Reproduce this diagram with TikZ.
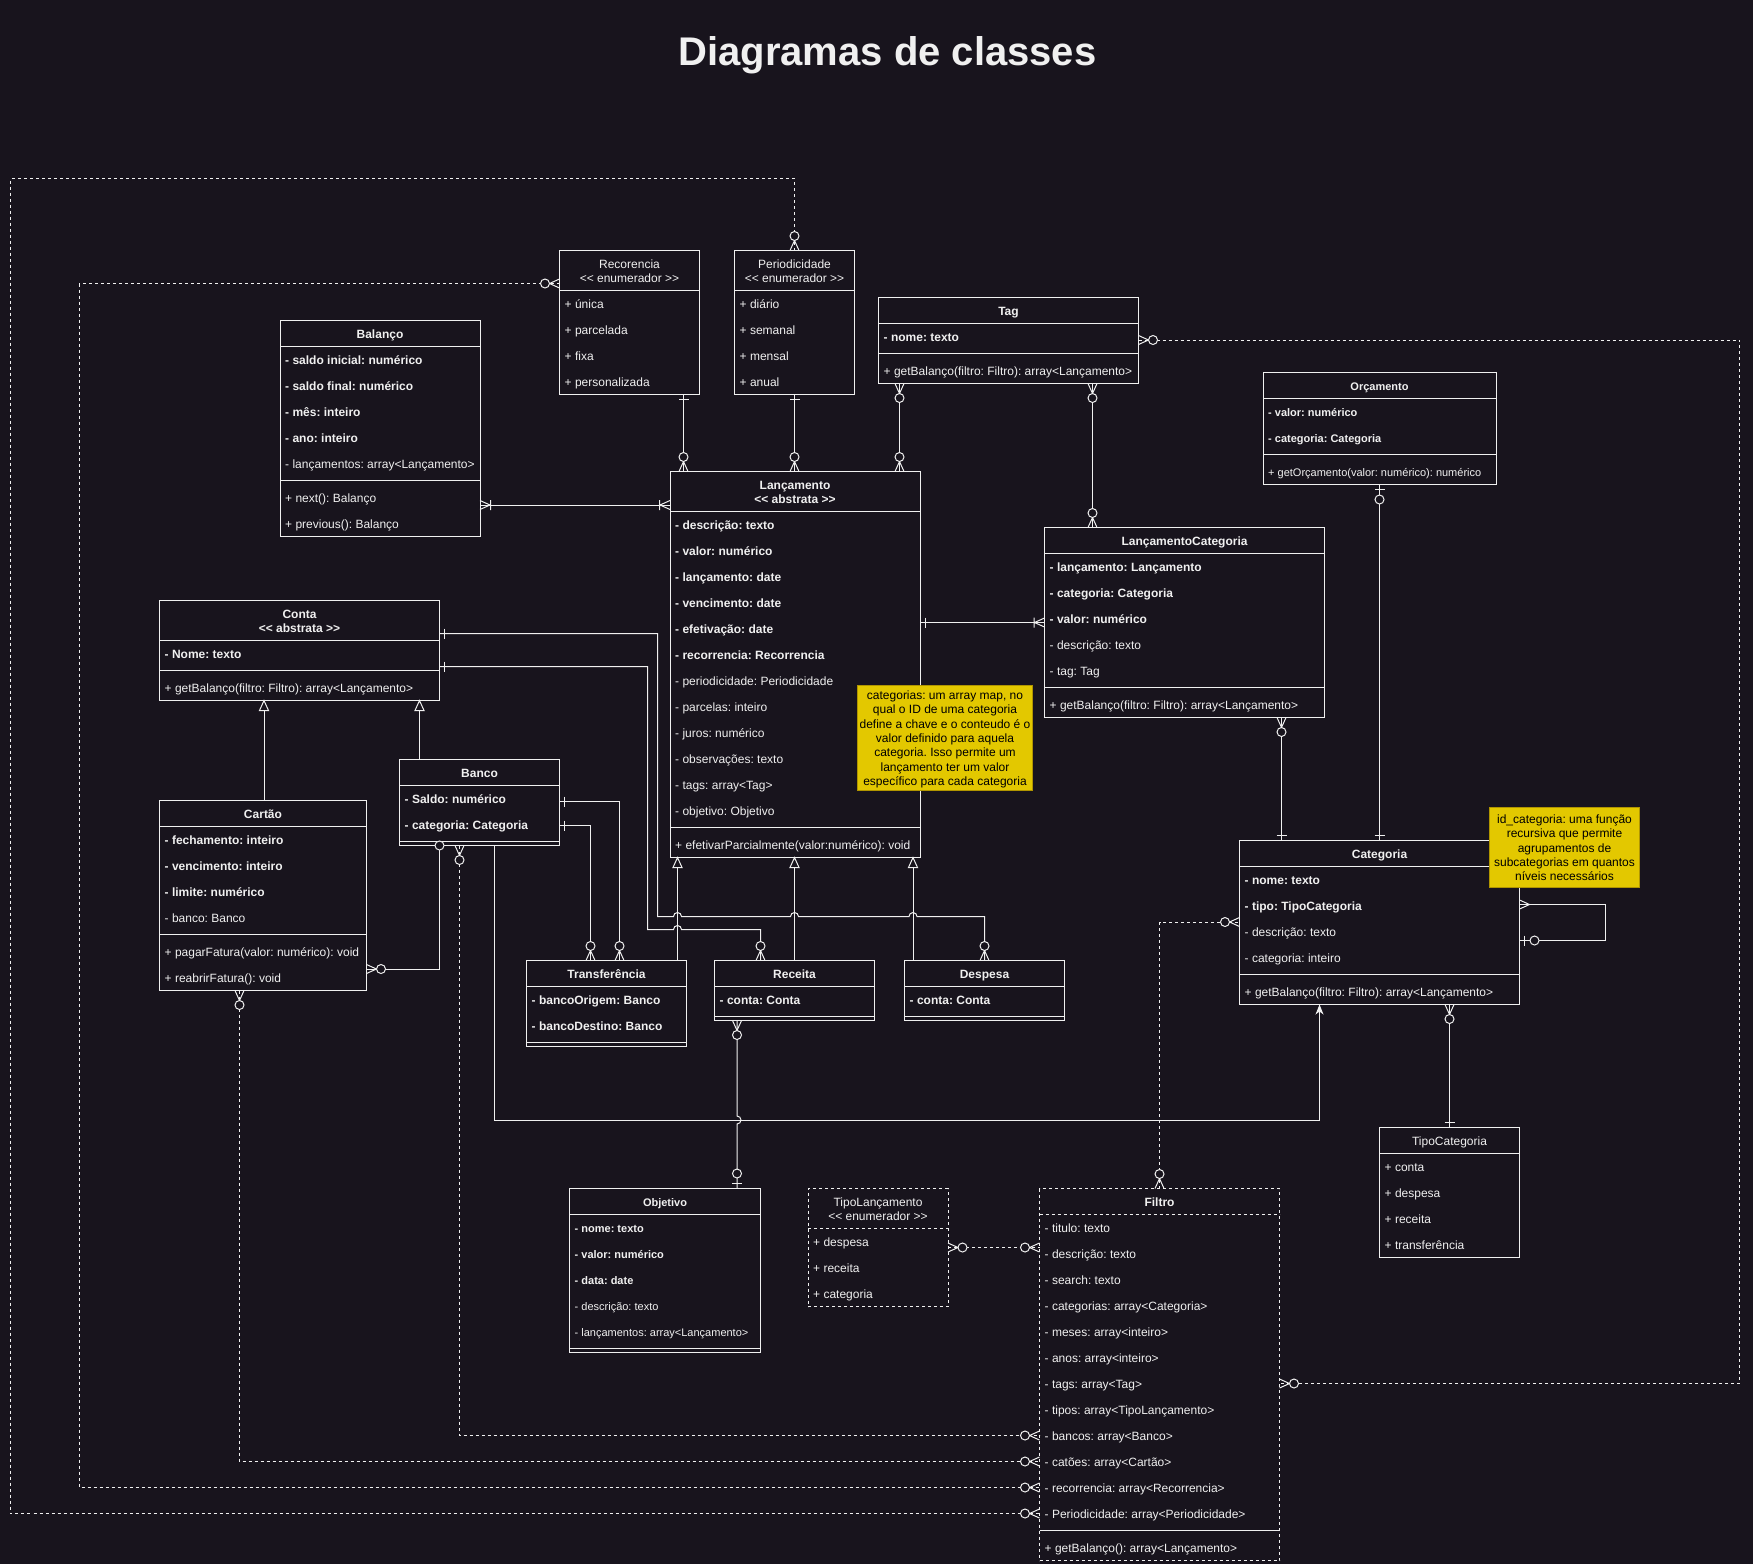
\documentclass[tikz,border=0pt]{standalone}
\usepackage{fontspec}
\setmainfont{Liberation Sans}[Ligatures=TeXOff]
\usetikzlibrary{arrows.meta,calc}
\frenchspacing
\definecolor{bg}{HTML}{18141D}
\definecolor{fg}{HTML}{F0F0F0}
\definecolor{notefill}{HTML}{E3C800}
\definecolor{notedraw}{HTML}{B09500}
\tikzset{
  ln/.style={draw=fg, line width=1pt},
  dl/.style={draw=fg, line width=1pt, dash pattern=on 3pt off 3pt},
  box/.style={draw=fg, line width=1pt, fill=bg, inner sep=0pt, outer sep=0pt, anchor=north west},
  dbox/.style={box, dash pattern=on 3pt off 3pt},
  note/.style={draw=notedraw, line width=1pt, fill=notefill, inner sep=0pt, outer sep=0pt, anchor=north west},
  rowtxt/.style={text=fg, anchor=base west, inner sep=0pt, font=\fontsize{12}{14}\selectfont\frenchspacing},
  sm/.style={font=\fontsize{11}{13}\selectfont\frenchspacing},
  hdr/.style={text=fg, anchor=base, inner sep=0pt, font=\fontsize{12}{14}\selectfont},
  hdrb/.style={hdr, font=\fontsize{12}{14}\selectfont\bfseries},
  hdrbs/.style={hdr, font=\fontsize{11}{13}\selectfont\bfseries},
  notetxt/.style={text=black, anchor=base, inner sep=0pt, font=\fontsize{12}{14}\selectfont\frenchspacing},
  mk/.style={draw=fg, line width=1pt, solid, line join=miter},
  pics/one/.style={code={\draw[mk] (5,-5) -- (5,5);}},
  pics/many/.style={code={\draw[mk] (0,-4.5) -- (10,0) -- (0,4.5);}},
  pics/zmany/.style={code={\draw[mk] (0,-4.5) -- (10,0) -- (0,4.5); \draw[mk,fill=bg] (14.5,0) circle (4.5pt);}},
  pics/omany/.style={code={\draw[mk] (0,-4.5) -- (10,0) -- (0,4.5) (10.5,-5) -- (10.5,5);}},
  pics/zone/.style={code={\draw[mk] (5,-5) -- (5,5); \draw[mk,fill=bg] (15,0) circle (4.5pt);}},
  pics/oval/.style={code={\draw[mk,fill=bg] (0,0) circle (4.5pt);}},
  pics/gen/.style={code={\draw[mk,fill=bg] (0,0) -- (10,-4.5) -- (10,4.5) -- cycle;}},
}
% rows: prefix, box left x, first row centre y, extra style, list
\newcommand\umlrows[5]{\foreach \t [count=\i] in {#5} {\node[rowtxt,#4] (#1\i) at ({#2+5},{#3+26*(\i-1)+5}) {\t};}}
% centred lines: prefix, centre x, first line centre y, style, list
\newcommand\umlcl[5]{\foreach \t [count=\i] in {#5} {\node[#4] (#1\i) at (#2,{#3+14.3*(\i-1)+4.6}) {\t};}}
% horizontal separator: node, offset from top, style
\newcommand\sepline[3]{\draw[#3] ($(#1.north west)+(0,#2)$) -- ($(#1.north east)+(0,#2)$);}
\begin{document}
\begin{tikzpicture}[x=1pt,y=-1pt]
\useasboundingbox (0,0) rectangle (1753,1564);
\fill[bg] (0,0) rectangle (1753,1564);

\node[text=fg, anchor=base, inner sep=0pt, font=\fontsize{40}{46}\selectfont\bfseries] (title) at (887.5,65) {Diagramas de classes};

% ---------------- boxes ----------------
\node[box, minimum width=140, minimum height=144] (rec) at (559.5,250.5) {};
\node[box, minimum width=120, minimum height=144] (per) at (734.5,250.5) {};
\node[box, minimum width=260, minimum height=86] (tag) at (878.5,297.5) {};
\node[box, minimum width=200, minimum height=216] (bal) at (280,320.5) {};
\node[box, minimum width=233, minimum height=112] (orc) at (1263,372.5) {};
\node[box, minimum width=250, minimum height=386] (lan) at (670,471.5) {};
\node[box, minimum width=280, minimum height=190] (lc) at (1044.5,527.5) {};
\node[box, minimum width=280, minimum height=100] (conta) at (159.5,600.5) {};
\node[box, minimum width=160, minimum height=86] (banco) at (399.5,759.5) {};
\node[box, minimum width=207, minimum height=190] (car) at (159.5,800.5) {};
\node[box, minimum width=160, minimum height=86] (tra) at (526.5,960.5) {};
\node[box, minimum width=160, minimum height=60] (receita) at (714.5,960.5) {};
\node[box, minimum width=160, minimum height=60] (desp) at (904.5,960.5) {};
\node[box, minimum width=191, minimum height=164] (obj) at (569.5,1188.5) {};
\node[dbox, minimum width=140, minimum height=118] (tl) at (808,1188.5) {};
\node[dbox, minimum width=240, minimum height=372] (fil) at (1039.5,1188.5) {};
\node[box, minimum width=280, minimum height=164] (cat) at (1239.5,840.5) {};
\node[box, minimum width=140, minimum height=130] (tc) at (1379.5,1127.5) {};

% separators
\sepline{rec}{40}{ln}
\sepline{per}{40}{ln}
\sepline{tag}{26}{ln} \sepline{tag}{56}{ln}
\sepline{bal}{26}{ln} \sepline{bal}{160}{ln}
\sepline{orc}{26}{ln} \sepline{orc}{82}{ln}
\sepline{lan}{40}{ln} \sepline{lan}{356}{ln}
\sepline{lc}{26}{ln} \sepline{lc}{160}{ln}
\sepline{conta}{40}{ln} \sepline{conta}{70}{ln}
\sepline{banco}{26}{ln} \sepline{banco}{82}{ln}
\sepline{car}{26}{ln} \sepline{car}{134}{ln}
\sepline{tra}{26}{ln} \sepline{tra}{82}{ln}
\sepline{receita}{26}{ln} \sepline{receita}{56}{ln}
\sepline{desp}{26}{ln} \sepline{desp}{56}{ln}
\sepline{obj}{26}{ln} \sepline{obj}{160}{ln}
\sepline{tl}{40}{dl}
\sepline{fil}{26}{dl} \sepline{fil}{342}{ln}
\sepline{cat}{26}{ln} \sepline{cat}{134}{ln}
\sepline{tc}{26}{ln}

% headers
\node[hdr] (rec-h1) at ($(rec.north)+(0,17.8)$) {Recorencia};
\node[hdr] (rec-h2) at ($(rec.north)+(0,31.8)$) {<< enumerador >>};
\node[hdr] (per-h1) at ($(per.north)+(0,17.8)$) {Periodicidade};
\node[hdr] (per-h2) at ($(per.north)+(0,31.8)$) {<< enumerador >>};
\node[hdrb] (tag-h) at ($(tag.north)+(0,17.8)$) {Tag};
\node[hdrb] (bal-h) at ($(bal.north)+(0,17.8)$) {Balanço};
\node[hdrbs] (orc-h) at ($(orc.north)+(0,17.5)$) {Orçamento};
\node[hdrb] (lan-h1) at ($(lan.north)+(0,17.8)$) {Lançamento};
\node[hdrb] (lan-h2) at ($(lan.north)+(0,31.8)$) {<< abstrata >>};
\node[hdrb] (lc-h) at ($(lc.north)+(0,17.8)$) {LançamentoCategoria};
\node[hdrb] (conta-h1) at ($(conta.north)+(0,17.8)$) {Conta};
\node[hdrb] (conta-h2) at ($(conta.north)+(0,31.8)$) {<< abstrata >>};
\node[hdrb] (banco-h) at ($(banco.north)+(0,17.8)$) {Banco};
\node[hdrb] (car-h) at ($(car.north)+(0,17.8)$) {Cartão};
\node[hdrb] (tra-h) at ($(tra.north)+(0,17.8)$) {Transferência};
\node[hdrb] (receita-h) at ($(receita.north)+(0,17.8)$) {Receita};
\node[hdrb] (desp-h) at ($(desp.north)+(0,17.8)$) {Despesa};
\node[hdrbs] (obj-h) at ($(obj.north)+(0,17.5)$) {Objetivo};
\node[hdr] (tl-h1) at ($(tl.north)+(0,17.8)$) {TipoLançamento};
\node[hdr] (tl-h2) at ($(tl.north)+(0,31.8)$) {<< enumerador >>};
\node[hdrb] (fil-h) at ($(fil.north)+(0,17.8)$) {Filtro};
\node[hdrb] (cat-h) at ($(cat.north)+(0,17.8)$) {Categoria};
\node[hdr] (tc-h) at ($(tc.north)+(0,17.8)$) {TipoCategoria};

% rows
\umlrows{rec-a}{559.5}{303.5}{}{+ única, + parcelada, + fixa, + personalizada}
\umlrows{per-a}{734.5}{303.5}{}{+ diário, + semanal, + mensal, + anual}
\umlrows{tag-a}{878.5}{336.5}{}{\textbf{- nome: texto}}
\umlrows{tag-m}{878.5}{370.5}{}{+ getBalanço(filtro: Filtro): array<Lançamento>}
\umlrows{bal-a}{280}{359.5}{}{\textbf{- saldo inicial: numérico}, \textbf{- saldo final: numérico}, \textbf{- mês: inteiro}, \textbf{- ano: inteiro}, - lançamentos: array<Lançamento>}
\umlrows{bal-m}{280}{497.5}{}{+ next(): Balanço, + previous(): Balanço}
\umlrows{orc-a}{1263}{411.5}{sm}{\textbf{- valor: numérico}, \textbf{- categoria: Categoria}}
\umlrows{orc-m}{1263}{471.5}{sm}{+ getOrçamento(valor: numérico): numérico}
\umlrows{lan-a}{670}{524.5}{}{\textbf{- descrição: texto}, \textbf{- valor: numérico}, \textbf{- lançamento: date}, \textbf{- vencimento: date}, \textbf{- efetivação: date}, \textbf{- recorrencia: Recorrencia}, - periodicidade: Periodicidade, - parcelas: inteiro, - juros: numérico, - observações: texto, - tags: array<Tag>, - objetivo: Objetivo}
\umlrows{lan-m}{670}{844.5}{}{+ efetivarParcialmente(valor:numérico): void}
\umlrows{lc-a}{1044.5}{566.5}{}{\textbf{- lançamento: Lançamento}, \textbf{- categoria: Categoria}, \textbf{- valor: numérico}, - descrição: texto, - tag: Tag}
\umlrows{lc-m}{1044.5}{704.5}{}{+ getBalanço(filtro: Filtro): array<Lançamento>}
\umlrows{conta-a}{159.5}{653.5}{}{\textbf{- Nome: texto}}
\umlrows{conta-m}{159.5}{687.5}{}{+ getBalanço(filtro: Filtro): array<Lançamento>}
\umlrows{banco-a}{399.5}{798.5}{}{\textbf{- Saldo: numérico}, \textbf{- categoria: Categoria}}
\umlrows{car-a}{159.5}{839.5}{}{\textbf{- fechamento: inteiro}, \textbf{- vencimento: inteiro}, \textbf{- limite: numérico}, - banco: Banco}
\umlrows{car-m}{159.5}{951.5}{}{+ pagarFatura(valor: numérico): void, + reabrirFatura(): void}
\umlrows{tra-a}{526.5}{999.5}{}{\textbf{- bancoOrigem: Banco}, \textbf{- bancoDestino: Banco}}
\umlrows{receita-a}{714.5}{999.5}{}{\textbf{- conta: Conta}}
\umlrows{desp-a}{904.5}{999.5}{}{\textbf{- conta: Conta}}
\umlrows{obj-a}{569.5}{1227.5}{sm}{\textbf{- nome: texto}, \textbf{- valor: numérico}, \textbf{- data: date}, - descrição: texto, - lançamentos: array<Lançamento>}
\umlrows{tl-a}{808}{1241.5}{}{+ despesa, + receita, + categoria}
\umlrows{fil-a}{1039.5}{1227.5}{}{- titulo: texto, - descrição: texto, - search: texto, - categorias: array<Categoria>, - meses: array<inteiro>, - anos: array<inteiro>, - tags: array<Tag>, - tipos: array<TipoLançamento>, - bancos: array<Banco>, - catões: array<Cartão>, - recorrencia: array<Recorrencia>, - Periodicidade: array<Periodicidade>}
\umlrows{fil-m}{1039.5}{1547.5}{}{+ getBalanço(): array<Lançamento>}
\umlrows{cat-a}{1239.5}{879.5}{}{\textbf{- nome: texto}, \textbf{- tipo: TipoCategoria}, - descrição: texto, - categoria: inteiro}
\umlrows{cat-m}{1239.5}{991.5}{}{+ getBalanço(filtro: Filtro): array<Lançamento>}
\umlrows{tc-a}{1379.5}{1166.5}{}{+ conta, + despesa, + receita, + transferência}

% ---------------- connectors ----------------
% generalisations
\draw[ln] (car.north -| 264,0) -- (conta.south -| 264,0);
\draw[ln] (banco.north -| 419.5,0) -- (conta.south -| 419.5,0);
\draw[ln] (tra.north -| 677.5,0) -- (lan.south -| 677.5,0);
\draw[ln] (receita.north) -- (lan.south -| receita.north);
\draw[ln] (desp.north -| 913,0) -- (lan.south -| 913,0);
\pic[rotate=-90] at (conta.south -| 264,0) {gen};
\pic[rotate=-90] at (conta.south -| 419.5,0) {gen};
\pic[rotate=-90] at (lan.south -| 677.5,0) {gen};
\pic[rotate=-90] at (lan.south -| receita.north) {gen};
\pic[rotate=-90] at (lan.south -| 913,0) {gen};

% Recorencia / Periodicidade -> Lancamento
\draw[ln] (rec.south -| 683.5,0) -- (lan.north -| 683.5,0);
\draw[ln] (per.south) -- (lan.north -| per.south);
\pic[rotate=-90] at (rec.south -| 683.5,0) {one};
\pic[rotate=90] at (lan.north -| 683.5,0) {zmany};
\pic[rotate=-90] at (per.south) {one};
\pic[rotate=90] at (lan.north -| per.south) {zmany};

% Tag
\draw[ln] (tag.south -| 899.5,0) -- (lan.north -| 899.5,0);
\pic[rotate=-90] at (tag.south -| 899.5,0) {zmany};
\pic[rotate=90] at (lan.north -| 899.5,0) {zmany};
\draw[ln] (tag.south -| 1092.5,0) -- (lc.north -| 1092.5,0);
\pic[rotate=-90] at (tag.south -| 1092.5,0) {zmany};
\pic[rotate=90] at (lc.north -| 1092.5,0) {zmany};
\draw[dl] (tag.east |- 0,340) -- (1739.5,340) -- (1739.5,1383.5) -- (fil.east |- 0,1383.5);
\pic at (tag.east |- 0,340) {zmany};
\pic at (fil.east |- 0,1383.5) {zmany};

% Periodicidade / Recorencia -> Filtro
\draw[dl] (per.north) -- (per.north |- 0,178.5) -- (10.5,178.5) -- (10.5,1513.5) -- (fil.west |- 0,1513.5);
\pic[rotate=90] at (per.north) {zmany};
\pic[rotate=180] at (fil.west |- 0,1513.5) {zmany};
\draw[dl] (rec.west |- 0,283.5) -- (79.5,283.5) -- (79.5,1487.5) -- (fil.west |- 0,1487.5);
\pic[rotate=180] at (rec.west |- 0,283.5) {zmany};
\pic[rotate=180] at (fil.west |- 0,1487.5) {zmany};

% Balanco - Lancamento
\draw[ln] (bal.east |- 0,505) -- (lan.west |- 0,505);
\pic at (bal.east |- 0,505) {omany};
\pic[rotate=180] at (lan.west |- 0,505) {omany};

% Lancamento - LancamentoCategoria
\draw[ln] (lan.east |- 0,622.5) -- (lc.west |- 0,622.5);
\pic at (lan.east |- 0,622.5) {one};
\pic[rotate=180] at (lc.west |- 0,622.5) {omany};

% -> Categoria
\draw[ln] (lc.south -| 1281.5,0) -- (cat.north -| 1281.5,0);
\pic[rotate=-90] at (lc.south -| 1281.5,0) {zmany};
\pic[rotate=90] at (cat.north -| 1281.5,0) {one};
\draw[ln] (orc.south) -- (cat.north -| orc.south);
\pic[rotate=-90] at (orc.south) {zone};
\pic[rotate=90] at (cat.north -| orc.south) {one};
\draw[ln] (cat.east |- 0,904.5) -- (1605.5,904.5) -- (1605.5,940.5) -- (cat.east |- 0,940.5);
\pic at (cat.east |- 0,904.5) {many};
\pic at (cat.east |- 0,940.5) {zone};
\draw[ln] (cat.south -| tc.north) -- (tc.north);
\pic[rotate=-90] at (cat.south -| tc.north) {zmany};
\pic[rotate=90] at (tc.north) {one};
\draw[dl] (fil.north) -- (fil.north |- 0,922) -- (cat.west |- 0,922);
\pic[rotate=90] at (fil.north) {zmany};
\pic[rotate=180] at (cat.west |- 0,922) {zmany};

% TipoLancamento - Filtro
\draw[dl] (tl.east |- 0,1247.5) -- (fil.west |- 0,1247.5);
\pic at (tl.east |- 0,1247.5) {zmany};
\pic[rotate=180] at (fil.west |- 0,1247.5) {zmany};

% Conta -> Despesa / Receita
\draw[ln] (conta.east |- 0,633.5) -- (657.5,633.5) -- (657.5,916.5) -- (673.5,916.5) arc (180:0:4pt) -- (790.5,916.5) arc (180:0:4pt) -- (909,916.5) arc (180:0:4pt) -- (desp.north |- 0,916.5) -- (desp.north);
\pic at (conta.east |- 0,633.5) {one};
\pic[rotate=90] at (desp.north) {zmany};
\draw[ln] (conta.east |- 0,666.5) -- (647.5,666.5) -- (647.5,929.5) -- (673.5,929.5) arc (180:0:4pt) -- (760.5,929.5) -- (receita.north -| 760.5,0);
\pic at (conta.east |- 0,666.5) {one};
\pic[rotate=90] at (receita.north -| 760.5,0) {zmany};

% Banco -> Transferencia
\draw[ln] (banco.east |- 0,801.5) -- (619.5,801.5) -- (tra.north -| 619.5,0);
\pic at (banco.east |- 0,801.5) {one};
\pic[rotate=90] at (tra.north -| 619.5,0) {zmany};
\draw[ln] (banco.east |- 0,825.5) -- (590.5,825.5) -- (tra.north -| 590.5,0);
\pic at (banco.east |- 0,825.5) {one};
\pic[rotate=90] at (tra.north -| 590.5,0) {zmany};

% Banco -> Cartao
\draw[ln] (banco.south -| 439.5,0) -- (439.5,969) -- (car.east |- 0,969);
\pic at (banco.south -| 439.5,0) {oval};
\pic at (car.east |- 0,969) {zmany};

% Banco -> Filtro
\draw[dl] (banco.south -| 459.5,0) -- (459.5,1435.5) -- (fil.west |- 0,1435.5);
\pic[rotate=-90] at (banco.south -| 459.5,0) {zmany};
\pic[rotate=180] at (fil.west |- 0,1435.5) {zmany};

% Cartao -> Filtro
\draw[dl] (car.south -| 239.5,0) -- (239.5,1461.5) -- (fil.west |- 0,1461.5);
\pic[rotate=-90] at (car.south -| 239.5,0) {zmany};
\pic[rotate=180] at (fil.west |- 0,1461.5) {zmany};

% Banco -> Categoria
\draw[ln, -{Stealth[length=10pt,width=8pt,inset=3pt]}] (banco.south -| 494.5,0) -- (494.5,1120) -- (1319.5,1120) -- (cat.south -| 1319.5,0);

% Receita -> Objetivo
\draw[ln] (receita.south -| 737,0) -- (737,1116) arc (90:-90:4pt) -- (obj.north -| 737,0);
\pic[rotate=-90] at (receita.south -| 737,0) {zmany};
\pic[rotate=90] at (obj.north -| 737,0) {zone};

% ---------------- notes ----------------
\node[note, minimum width=175, minimum height=105] (n1) at (857.5,685.5) {};
\umlcl{n1-l}{945}{695}{notetxt}{{categorias: um array map, no}, qual o ID de uma categoria, define a chave e o conteudo é o, valor definido para aquela, categoria. Isso permite um, lançamento ter um valor, específico para cada categoria}
\node[note, minimum width=150, minimum height=80] (n2) at (1489.5,807.5) {};
\umlcl{n2-l}{1564.5}{819}{notetxt}{id\_categoria: uma função, recursiva que permite, agrupamentos de, subcategorias em quantos, níveis necessários}
\end{tikzpicture}
\end{document}
